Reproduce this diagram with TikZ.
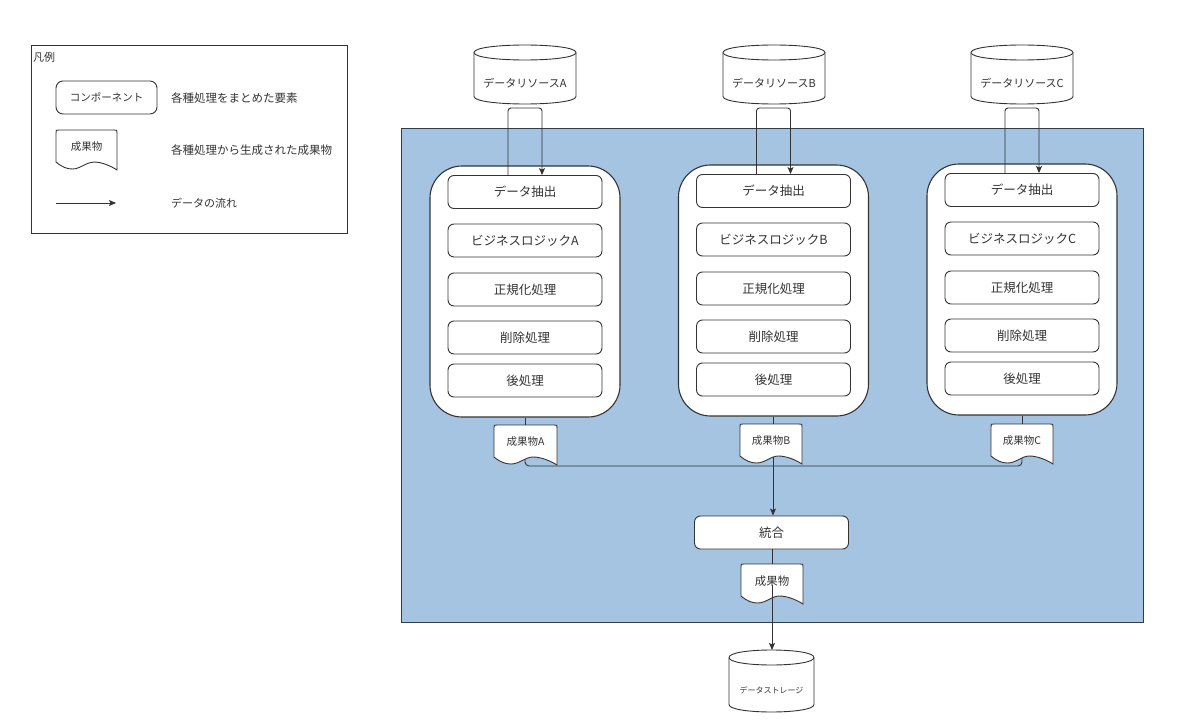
\documentclass[tikz,border=0pt]{standalone}
\usepackage{fontspec}
\setmainfont{Noto Sans CJK JP}
\usetikzlibrary{arrows.meta,calc}
\definecolor{ink}{HTML}{333333}
\definecolor{bluebg}{HTML}{A5C4E2}
\definecolor{navy}{HTML}{2E3D4C}
\newcommand\fs[1]{\fontsize{#1}{#1}\selectfont}
% document shape: name, x0, y0, w, h, fontsize, text
\newcommand\mydoc[7]{%
 \filldraw[docline] ({#2},{#3+3}) -- ({#2},{#3+0.8*#5})
   .. controls ({#2+0.1*#4},{#3+0.93*#5}) and ({#2+0.18*#4},{#3+0.975*#5}) .. ({#2+0.27*#4},{#3+0.975*#5})
   .. controls ({#2+0.4*#4},{#3+0.975*#5}) and ({#2+0.5*#4},{#3+0.8*#5}) .. ({#2+0.62*#4},{#3+0.8*#5})
   .. controls ({#2+0.75*#4},{#3+0.8*#5}) and ({#2+0.9*#4},{#3+0.9*#5}) .. ({#2+#4},{#3+#5})
   -- ({#2+#4},{#3+3}) .. controls ({#2+#4},{#3}) .. ({#2+#4-3},{#3})
   -- ({#2+3},{#3}) .. controls ({#2},{#3}) .. ({#2},{#3+3}) -- cycle;
 \node[font=\fs{#6}, text=ink, inner sep=0] (#1) at ({#2+0.5*#4},{#3+0.42*#5}) {#7};
 \coordinate (#1-top) at ({#2+0.5*#4},{#3});}
% cylinder: name, cx, ytop, w, h, fontsize, text
\newcommand\mycyl[7]{%
 \filldraw[docline] ({#2-#4/2},{#3+7.5}) .. controls ({#2-#4/2},{#3-2.5}) and ({#2+#4/2},{#3-2.5}) .. ({#2+#4/2},{#3+7.5})
  -- ({#2+#4/2},{#3+#5-7.5}) .. controls ({#2+#4/2},{#3+#5+2.5}) and ({#2-#4/2},{#3+#5+2.5}) .. ({#2-#4/2},{#3+#5-7.5}) -- cycle;
 \draw[docline] ({#2-#4/2},{#3+7.5}) .. controls ({#2-#4/2},{#3+17.5}) and ({#2+#4/2},{#3+17.5}) .. ({#2+#4/2},{#3+7.5});
 \node[font=\fs{#6}, text=ink, inner sep=0] (#1) at ({#2},{#3+#5*0.5+9}) {#7};
 \coordinate (#1-top) at ({#2},{#3});
 \coordinate (#1-bot) at ({#2},{#3+#5});}
\tikzset{
 docline/.style={draw=ink, fill=white, line width=0.9pt},
 container/.style={draw=ink, fill=white, line width=1.1pt, rounded corners=32pt, minimum width=190, minimum height=251, inner sep=0},
 procbox/.style={draw=ink, fill=white, line width=0.9pt, rounded corners=6pt, minimum width=154, minimum height=33, inner sep=0, font=\fs{12.5}, text=ink},
 link/.style={draw=ink, line width=0.9pt},
 flow/.style={draw=ink, line width=0.9pt, -{Stealth[length=7pt,width=6pt,inset=1.5pt]}},
 lbl/.style={font=\fs{11.5}, text=ink, inner sep=0, anchor=west}
}
\begin{document}
\begin{tikzpicture}[x=1pt,y=-1pt]
\fill[white] (0,0) rectangle (1200,728);
\useasboundingbox (0,0) rectangle (1200,728);
% legend
\node[draw=ink, line width=1pt, minimum width=316, minimum height=188, anchor=north west, inner sep=0] (legend) at (31,45) {};
\node[font=\fs{11}, text=ink, inner sep=0, anchor=west] (hanrei) at (33,57) {凡例};
\node[procbox, minimum width=101, rounded corners=7pt, font=\fs{10.5}] (lcomp) at (106.5,97.5) {コンポーネント};
\mydoc{ldoc}{56}{130}{61}{40}{10.5}{成果物}
\coordinate (la1) at (56,203);
\coordinate (la2) at (116,203);
\draw[flow] (la1) -- (la2);
\node[lbl] (lt1) at (171,98) {各種処理をまとめた要素};
\node[lbl] (lt2) at (171,150) {各種処理から生成された成果物};
\node[lbl, font=\fs{11}] (lt3) at (171,203) {データの流れ};
% area
\node[draw=navy, fill=bluebg, line width=1.2pt, minimum width=742, minimum height=494, anchor=north west, inner sep=0] (area) at (401,128) {};
% columns
\foreach \n/\cx/\dy in {A/525/0, B/773.5/-1, C/1022/-2}{
  \node[container] (out\n) at (\cx,{291.5+\dy}) {};
  \node[procbox] (ext\n) at (\cx,{192+\dy}) {データ抽出};
  \node[procbox] (biz\n) at (\cx,{240.5+\dy}) {ビジネスロジック\n};
  \node[procbox] (nrm\n) at (\cx,{289.5+\dy}) {正規化処理};
  \node[procbox] (del\n) at (\cx,{337.5+\dy}) {削除処理};
  \node[procbox] (pst\n) at (\cx,{380.5+\dy}) {後処理};
}
% integration box
\node[procbox] (int) at (771.5,532.5) {統合};
% connectors (behind documents)
\coordinate (mrg) at (773,466);
\coordinate (docA-c) at (525,445);
\coordinate (docB-c) at (773,444);
\coordinate (docC-c) at (1022,444);
\draw[link] (outA.south) -- (docA-c);
\draw[link] (outB.south -| docB-c) -- (docB-c);
\draw[link] (outC.south) -- (docC-c);
\draw[link, rounded corners=4pt] (docA-c) |- (mrg);
\draw[link, rounded corners=4pt] (docC-c) |- (mrg);
\draw[flow] (docB-c) -- (docB-c |- int.north);
\coordinate (res-c) at (772,585);
\draw[link] (int.south -| res-c) -- (res-c);
% documents
\mydoc{docA}{494}{425}{63}{40}{10.5}{成果物A}
\mydoc{docB}{740}{424}{62}{40}{10.5}{成果物B}
\mydoc{docC}{991}{424}{62}{40}{10.5}{成果物C}
\mydoc{res}{741}{564}{62}{40}{11.5}{成果物}
% cylinders
\mycyl{cylA}{525}{45}{102}{59}{11}{データリソースA}
\mycyl{cylB}{774}{45}{102}{59}{11}{データリソースB}
\mycyl{cylC}{1022}{45}{102}{59}{11}{データリソースC}
\mycyl{stor}{771.5}{650}{85}{62}{8}{データストレージ}
\draw[flow] (res-c) -- (res-c |- stor-top);
% source loops
\foreach \n in {A,B,C}{
  \draw[flow, rounded corners=3pt] ($(ext\n.north)+(-17,0)$) |- ($(cyl\n-bot)+(0,4)$) -| ($(ext\n.north)+(17,0)$);
}
\end{tikzpicture}
\end{document}
